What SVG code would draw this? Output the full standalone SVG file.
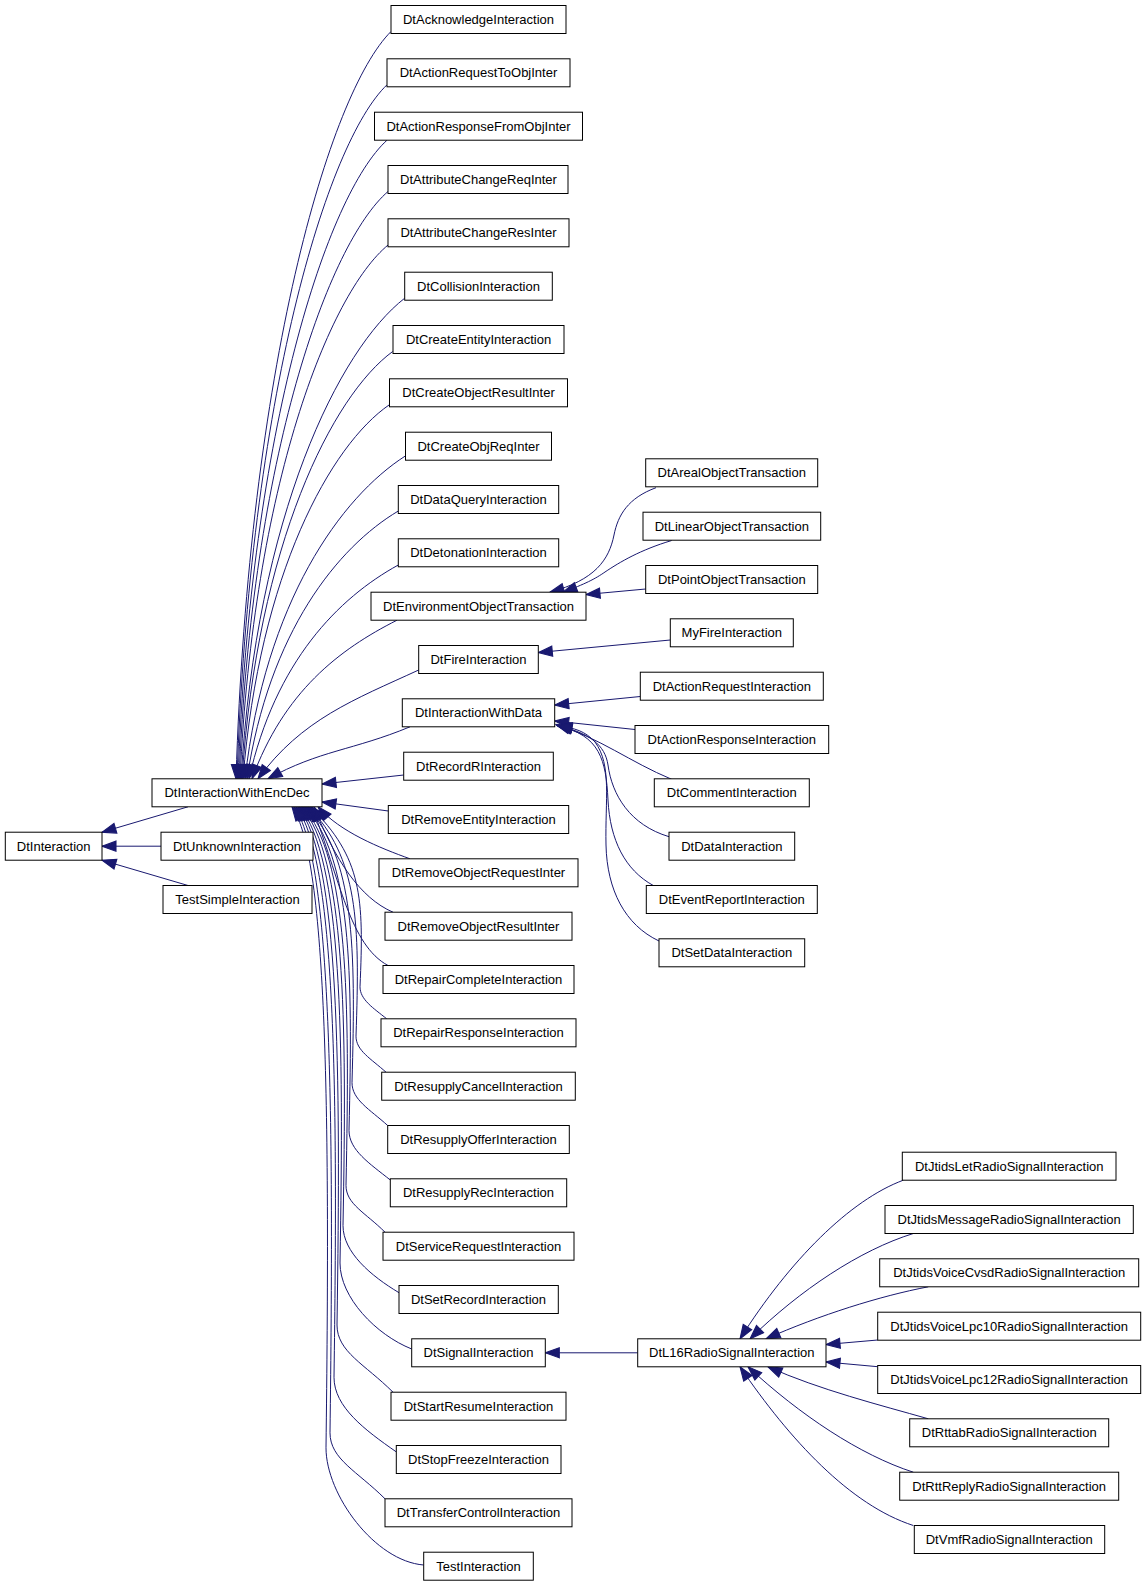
<svg xmlns="http://www.w3.org/2000/svg" width="1147" height="1587" viewBox="0 0 1147 1587">
<defs>
<marker id="ah" markerUnits="userSpaceOnUse" markerWidth="14" markerHeight="11" viewBox="0 0 13 10" refX="13" refY="5" orient="auto" style="overflow:visible">
<path d="M0,0.3 L13,5 L0,9.7 Z" fill="#191970" stroke="#191970" stroke-width="1"/>
</marker>
<style>
.n rect{fill:#fff;stroke:#000;stroke-width:1}
.n text{font-family:"Liberation Sans",Arial,Helvetica,sans-serif;font-size:13px;text-anchor:middle;fill:#000}
#edges path{fill:none;stroke:#191970;stroke-width:1;marker-end:url(#ah)}
</style>
</defs>
<rect x="0" y="0" width="1147" height="1587" fill="#fff"/>
<g id="edges">
<path d="M188,806.8 L102,832.2"/>
<path d="M161,846.2 L102,846.2"/>
<path d="M188,885.5 L102,860.2"/>
<path d="M391,31.5 C329,93.5 248.9,367.9 236,778.8"/>
<path d="M387,84.8 C327,142.1 249.6,397.2 237,778.8"/>
<path d="M387,140.2 C327.4,194.4 250.8,427.7 238,778.8"/>
<path d="M388,191.5 C328.4,243.1 252.1,455.9 239,778.8"/>
<path d="M388.3,244.8 C329,293.4 253.5,485.2 240,778.8"/>
<path d="M404.7,298.2 C339.2,349 256.7,514.6 241,778.8"/>
<path d="M392.7,351.5 C332.4,395.5 257.5,543.9 242,778.8"/>
<path d="M389.3,404.8 C330.8,444.9 259.5,573.2 243,778.8"/>
<path d="M405.3,456 C341.2,497 265.4,601.4 245,778.8"/>
<path d="M398.3,511 C337.8,547 269.2,631.6 247,778.8"/>
<path d="M398.3,565 C338.6,597.8 275.3,661.3 249,778.8"/>
<path d="M397,620.2 C339,649.5 283.8,691.7 252,778.8"/>
<path d="M418.7,670 C354.4,699.6 301.9,719 258,778.8"/>
<path d="M410,726.8 C353.2,750.4 319.4,750.3 268,778.8"/>
<path d="M403.7,775 L322,784"/>
<path d="M388.3,811 L322,802"/>
<path d="M410,858.8 C380,848 340,832 318,806.8"/>
<path d="M393,912.2 C360,898 335,860 314,806.8"/>
<path d="M388,965.5 C350,945 340,880 312,806.8"/>
<path d="M386.7,1018.8 C373.35,1008.1 360,999.6 360,986.8 C364,896.8 362,858 310.5,806.8"/>
<path d="M386,1072.2 C371,1058.7 356,1050.6 356,1036.2 C360,921.5 358,858 308.5,806.8"/>
<path d="M387.7,1125.5 C369.85,1109.4 352,1099.8 352,1082.7 C356,944.75 354,858 307,806.8"/>
<path d="M390.3,1180 C369.65,1163.5 349,1150.2 349,1130.4 C353,968.6 351,858 305,806.8"/>
<path d="M385,1232.2 C365.5,1212.7 346,1204.1 346,1185.4 C350,996.1 348,858 303,806.8"/>
<path d="M399,1292.7 C371,1275.9 343,1252.4 343,1225.5 C347,1016.15 345,858 301.5,806.8"/>
<path d="M411.7,1349 C375.85,1334.7 340,1297.4 340,1263 C344,1034.9 342,858 299.5,806.8"/>
<path d="M393,1392.2 C365,1364.2 337,1351.9 337,1325 C341,1065.9 339,858 298,806.8"/>
<path d="M396,1451.7 C365,1430 334,1407.1 334,1377.3 C338,1092.05 336,858 296,806.8"/>
<path d="M385,1498.8 C357.5,1471.3 330,1459.2 330,1432.8 C334,1119.8 332,858 294,806.8"/>
<path d="M423.7,1565 C374.85,1561.1 326,1494.7 326,1447.8 C330,1127.3 328,858 292,806.8"/>
<path d="M656,487.7 C628,498 618,515 614,535 C609,560 595,580 550,592.2"/>
<path d="M671.7,540.5 C640,550 620,562 605,572 C595,579 585,584 563,592.2"/>
<path d="M645.7,589 L586,594.5"/>
<path d="M670.3,640 L538.3,652.5"/>
<path d="M640.3,696.5 L554.7,705"/>
<path d="M635,729.5 L554.7,721"/>
<path d="M671.7,779.3 C630,762 600,738 556,724.5"/>
<path d="M669,836.7 C630,825 612,795 608,765 C605,745 590,733 557,725.5"/>
<path d="M653.3,885.5 C625,870 610,840 608,800 C606,760 600,735 558,726"/>
<path d="M659,941 C625,925 607,890 606,845 C605,800 612,765 595,742 C585,731 575,728 558,726"/>
<path d="M637.7,1352.8 L545.3,1352.8"/>
<path d="M903.3,1180.2 C850,1200 790,1260 740,1338.8"/>
<path d="M913.3,1233.5 C860,1250 800,1290 750,1338.8"/>
<path d="M928.3,1286.8 C880,1296 820,1315 766,1338.8"/>
<path d="M877.7,1340 L826,1344.5"/>
<path d="M877.7,1366.7 L826,1362"/>
<path d="M928.3,1418.8 C880,1405 820,1390 768,1366.8"/>
<path d="M913.3,1472.2 C860,1455 800,1415 748,1366.8"/>
<path d="M913.3,1525.5 C850,1505 790,1440 740,1366.8"/>
</g>
<g id="DtInteraction" class="n"><rect x="5.3" y="832.2" width="96.7" height="28"/><text x="53.7" y="850.5">DtInteraction</text></g>
<g id="DtInteractionWithEncDec" class="n"><rect x="152" y="778.8" width="170" height="28"/><text x="237" y="797.1">DtInteractionWithEncDec</text></g>
<g id="DtUnknownInteraction" class="n"><rect x="161" y="832.2" width="152" height="28"/><text x="237" y="850.5">DtUnknownInteraction</text></g>
<g id="TestSimpleInteraction" class="n"><rect x="163" y="885.5" width="149" height="28"/><text x="237.5" y="903.8">TestSimpleInteraction</text></g>
<g id="DtAcknowledgeInteraction" class="n"><rect x="391" y="5.5" width="175" height="28"/><text x="478.5" y="23.8">DtAcknowledgeInteraction</text></g>
<g id="DtActionRequestToObjInter" class="n"><rect x="387" y="58.8" width="183" height="28"/><text x="478.5" y="77.1">DtActionRequestToObjInter</text></g>
<g id="DtActionResponseFromObjInter" class="n"><rect x="374.5" y="112.2" width="208" height="28"/><text x="478.5" y="130.5">DtActionResponseFromObjInter</text></g>
<g id="DtAttributeChangeReqInter" class="n"><rect x="388" y="165.5" width="180" height="28"/><text x="478.5" y="183.8">DtAttributeChangeReqInter</text></g>
<g id="DtAttributeChangeResInter" class="n"><rect x="388" y="218.8" width="181" height="28"/><text x="478.5" y="237.1">DtAttributeChangeResInter</text></g>
<g id="DtCollisionInteraction" class="n"><rect x="404.7" y="272.2" width="147.6" height="28"/><text x="478.5" y="290.5">DtCollisionInteraction</text></g>
<g id="DtCreateEntityInteraction" class="n"><rect x="393" y="325.5" width="171" height="28"/><text x="478.5" y="343.8">DtCreateEntityInteraction</text></g>
<g id="DtCreateObjectResultInter" class="n"><rect x="389.5" y="378.8" width="178" height="28"/><text x="478.5" y="397.1">DtCreateObjectResultInter</text></g>
<g id="DtCreateObjReqInter" class="n"><rect x="405.5" y="432.2" width="146" height="28"/><text x="478.5" y="450.5">DtCreateObjReqInter</text></g>
<g id="DtDataQueryInteraction" class="n"><rect x="398.3" y="485.5" width="160.4" height="28"/><text x="478.5" y="503.8">DtDataQueryInteraction</text></g>
<g id="DtDetonationInteraction" class="n"><rect x="398.3" y="538.8" width="160.4" height="28"/><text x="478.5" y="557.1">DtDetonationInteraction</text></g>
<g id="DtEnvironmentObjectTransaction" class="n"><rect x="371" y="592.2" width="215" height="28"/><text x="478.5" y="610.5">DtEnvironmentObjectTransaction</text></g>
<g id="DtFireInteraction" class="n"><rect x="418.7" y="645.5" width="119.6" height="28"/><text x="478.5" y="663.8">DtFireInteraction</text></g>
<g id="DtInteractionWithData" class="n"><rect x="402.3" y="698.8" width="152.4" height="28"/><text x="478.5" y="717.1">DtInteractionWithData</text></g>
<g id="DtRecordRInteraction" class="n"><rect x="403.7" y="752.2" width="149.6" height="28"/><text x="478.5" y="770.5">DtRecordRInteraction</text></g>
<g id="DtRemoveEntityInteraction" class="n"><rect x="388.3" y="805.5" width="180.4" height="28"/><text x="478.5" y="823.8">DtRemoveEntityInteraction</text></g>
<g id="DtRemoveObjectRequestInter" class="n"><rect x="379" y="858.8" width="199" height="28"/><text x="478.5" y="877.1">DtRemoveObjectRequestInter</text></g>
<g id="DtRemoveObjectResultInter" class="n"><rect x="385" y="912.2" width="187" height="28"/><text x="478.5" y="930.5">DtRemoveObjectResultInter</text></g>
<g id="DtRepairCompleteInteraction" class="n"><rect x="383" y="965.5" width="191" height="28"/><text x="478.5" y="983.8">DtRepairCompleteInteraction</text></g>
<g id="DtRepairResponseInteraction" class="n"><rect x="381" y="1018.8" width="195" height="28"/><text x="478.5" y="1037.1">DtRepairResponseInteraction</text></g>
<g id="DtResupplyCancelInteraction" class="n"><rect x="381.7" y="1072.2" width="193.6" height="28"/><text x="478.5" y="1090.5">DtResupplyCancelInteraction</text></g>
<g id="DtResupplyOfferInteraction" class="n"><rect x="387.7" y="1125.5" width="181.6" height="28"/><text x="478.5" y="1143.8">DtResupplyOfferInteraction</text></g>
<g id="DtResupplyRecInteraction" class="n"><rect x="390.3" y="1178.8" width="176.4" height="28"/><text x="478.5" y="1197.1">DtResupplyRecInteraction</text></g>
<g id="DtServiceRequestInteraction" class="n"><rect x="383" y="1232.2" width="191" height="28"/><text x="478.5" y="1250.5">DtServiceRequestInteraction</text></g>
<g id="DtSetRecordInteraction" class="n"><rect x="399" y="1285.5" width="159.3" height="28"/><text x="478.5" y="1303.8">DtSetRecordInteraction</text></g>
<g id="DtSignalInteraction" class="n"><rect x="411.7" y="1338.8" width="133.6" height="28"/><text x="478.5" y="1357.1">DtSignalInteraction</text></g>
<g id="DtStartResumeInteraction" class="n"><rect x="391" y="1392.2" width="175" height="28"/><text x="478.5" y="1410.5">DtStartResumeInteraction</text></g>
<g id="DtStopFreezeInteraction" class="n"><rect x="396.3" y="1445.5" width="164.7" height="28"/><text x="478.5" y="1463.8">DtStopFreezeInteraction</text></g>
<g id="DtTransferControlInteraction" class="n"><rect x="385" y="1498.8" width="187" height="28"/><text x="478.5" y="1517.1">DtTransferControlInteraction</text></g>
<g id="TestInteraction" class="n"><rect x="423.7" y="1552.2" width="109.6" height="28"/><text x="478.5" y="1570.5">TestInteraction</text></g>
<g id="DtArealObjectTransaction" class="n"><rect x="645.7" y="458.8" width="172" height="28"/><text x="731.8" y="477.1">DtArealObjectTransaction</text></g>
<g id="DtLinearObjectTransaction" class="n"><rect x="643" y="512.2" width="177.7" height="28"/><text x="731.8" y="530.5">DtLinearObjectTransaction</text></g>
<g id="DtPointObjectTransaction" class="n"><rect x="645.7" y="565.5" width="172" height="28"/><text x="731.8" y="583.8">DtPointObjectTransaction</text></g>
<g id="MyFireInteraction" class="n"><rect x="670.3" y="618.8" width="123" height="28"/><text x="731.8" y="637.1">MyFireInteraction</text></g>
<g id="DtActionRequestInteraction" class="n"><rect x="640.3" y="672.2" width="183" height="28"/><text x="731.8" y="690.5">DtActionRequestInteraction</text></g>
<g id="DtActionResponseInteraction" class="n"><rect x="635" y="725.5" width="193.7" height="28"/><text x="731.8" y="743.8">DtActionResponseInteraction</text></g>
<g id="DtCommentInteraction" class="n"><rect x="654.3" y="778.8" width="155" height="28"/><text x="731.8" y="797.1">DtCommentInteraction</text></g>
<g id="DtDataInteraction" class="n"><rect x="669" y="832.2" width="125.7" height="28"/><text x="731.8" y="850.5">DtDataInteraction</text></g>
<g id="DtEventReportInteraction" class="n"><rect x="646.3" y="885.5" width="171" height="28"/><text x="731.8" y="903.8">DtEventReportInteraction</text></g>
<g id="DtSetDataInteraction" class="n"><rect x="659" y="938.8" width="145.7" height="28"/><text x="731.8" y="957.1">DtSetDataInteraction</text></g>
<g id="DtL16RadioSignalInteraction" class="n"><rect x="637.7" y="1338.8" width="188.3" height="28"/><text x="731.8" y="1357.1">DtL16RadioSignalInteraction</text></g>
<g id="DtJtidsLetRadioSignalInteraction" class="n"><rect x="902.3" y="1152.2" width="213.7" height="28"/><text x="1009.2" y="1170.5">DtJtidsLetRadioSignalInteraction</text></g>
<g id="DtJtidsMessageRadioSignalInteraction" class="n"><rect x="885" y="1205.5" width="248.3" height="28"/><text x="1009.2" y="1223.8">DtJtidsMessageRadioSignalInteraction</text></g>
<g id="DtJtidsVoiceCvsdRadioSignalInteraction" class="n"><rect x="879.7" y="1258.8" width="259" height="28"/><text x="1009.2" y="1277.1">DtJtidsVoiceCvsdRadioSignalInteraction</text></g>
<g id="DtJtidsVoiceLpc10RadioSignalInteraction" class="n"><rect x="877.7" y="1312.2" width="263" height="28"/><text x="1009.2" y="1330.5">DtJtidsVoiceLpc10RadioSignalInteraction</text></g>
<g id="DtJtidsVoiceLpc12RadioSignalInteraction" class="n"><rect x="877.7" y="1365.5" width="263" height="28"/><text x="1009.2" y="1383.8">DtJtidsVoiceLpc12RadioSignalInteraction</text></g>
<g id="DtRttabRadioSignalInteraction" class="n"><rect x="909.7" y="1418.8" width="199" height="28"/><text x="1009.2" y="1437.1">DtRttabRadioSignalInteraction</text></g>
<g id="DtRttReplyRadioSignalInteraction" class="n"><rect x="899.7" y="1472.2" width="219" height="28"/><text x="1009.2" y="1490.5">DtRttReplyRadioSignalInteraction</text></g>
<g id="DtVmfRadioSignalInteraction" class="n"><rect x="914.3" y="1525.5" width="190.4" height="28"/><text x="1009.2" y="1543.8">DtVmfRadioSignalInteraction</text></g>
</svg>
